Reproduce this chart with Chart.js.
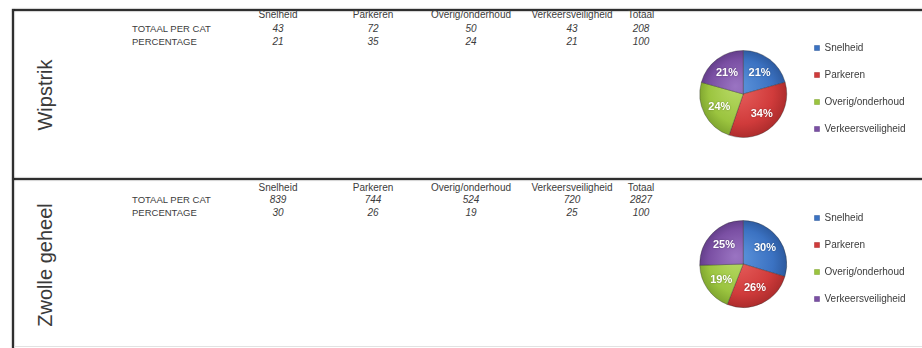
<!DOCTYPE html>
<html>
<head>
<meta charset="utf-8">
<script src="https://cdn.jsdelivr.net/npm/chart.js@4/dist/chart.umd.min.js"></script>
<style>
html,body{margin:0;padding:0;width:922px;height:348px;overflow:hidden;background:#fff;
  font-family:"Liberation Sans",Arial,sans-serif;color:#3c3c3c;}
.line{position:absolute;background:#2e2e2e;}
.t{position:absolute;white-space:nowrap;transform:translate(-50%,-50%);font-size:10px;line-height:12px;}
.lbl{position:absolute;white-space:nowrap;transform:translateY(-50%);font-size:9.5px;line-height:12px;}
.v{font-style:italic;}
.title{position:absolute;white-space:nowrap;font-size:20px;line-height:24px;color:#3a3a3a;
  transform:translate(-50%,-50%) rotate(-90deg);}
canvas{position:absolute;}
</style>
</head>
<body>
<div class="line" style="left:12px;top:9px;width:910px;height:2px;box-shadow:0 -1px 1px rgba(0,0,0,0.18),0 1px 1px rgba(0,0,0,0.18);"></div>
<div class="line" style="left:12px;top:178px;width:910px;height:2px;box-shadow:0 -1px 1px rgba(0,0,0,0.18),0 1px 1px rgba(0,0,0,0.18);"></div>
<div class="line" style="left:12px;top:9px;width:2px;height:339px;box-shadow:1px 0 1px rgba(0,0,0,0.18),-1px 0 1px rgba(0,0,0,0.18);"></div>
<div class="line" style="left:14px;top:346px;width:908px;height:1px;background:#e2e2e2;"></div>
<div id="texts"></div>
<canvas id="pie1" width="242" height="146" style="left:680px;top:20px;"></canvas>
<canvas id="pie2" width="242" height="146" style="left:680px;top:190px;"></canvas>
<script>
// ---- data ----
const categories = ['Snelheid', 'Parkeren', 'Overig/onderhoud', 'Verkeersveiligheid'];
const totalHeader = 'Totaal';
const rowLabels = ['TOTAAL PER CAT', 'PERCENTAGE'];
const panelTitles = ['Wipstrik', 'Zwolle geheel'];

const wipstrikTotals = [43, 72, 50, 43];
const wipstrikGrandTotal = 208;
const wipstrikPercent = [21, 35, 24, 21];
const wipstrikPieLabels = ['21%', '34%', '24%', '21%'];

const zwolleTotals = [839, 744, 524, 720];
const zwolleGrandTotal = 2827;
const zwollePercent = [30, 26, 19, 25];
const zwollePieLabels = ['30%', '26%', '19%', '25%'];

const percentTotal = 100;

// ---- styles / layout ----
const baseColors = ['#3b72c2', '#d03b3b', '#9bc43f', '#7a4fa3'];
const lightColors = ['#5f97de', '#ea6461', '#b8da66', '#9a74c2'];
const darkColors = ['#2a5699', '#a82a2a', '#7aa02c', '#5e3a84'];
const colX = [278, 373, 471, 572, 641];

const panels = [
  {title: panelTitles[0], titleY: 95, top: 0, totals: wipstrikTotals, grand: wipstrikGrandTotal,
   pct: wipstrikPercent, pie: wipstrikPieLabels, canvas: 'pie1', rowY: [15, 29, 42]},
  {title: panelTitles[1], titleY: 265, top: 171, totals: zwolleTotals, grand: zwolleGrandTotal,
   pct: zwollePercent, pie: zwollePieLabels, canvas: 'pie2', rowY: [188, 200, 213]}
];

const texts = document.getElementById('texts');
function addDiv(cls, txt, x, y) {
  const d = document.createElement('div');
  d.className = cls; d.textContent = txt;
  d.style.left = x + 'px'; d.style.top = y + 'px';
  texts.appendChild(d);
}

const pctPlugin = {
  id: 'pctLabels',
  afterDatasetsDraw(chart) {
    const ctx = chart.ctx;
    const ds = chart.data.datasets[0];
    const meta = chart.getDatasetMeta(0);
    ctx.save();
    ctx.font = 'bold 11px "Liberation Sans", Arial, sans-serif';
    ctx.fillStyle = '#ffffff';
    ctx.textAlign = 'center';
    ctx.textBaseline = 'middle';
    ctx.shadowColor = 'rgba(0,0,0,0.35)';
    ctx.shadowBlur = 2;
    meta.data.forEach((arc, i) => {
      const p = arc.getProps(['x', 'y', 'startAngle', 'endAngle', 'outerRadius'], true);
      const m = (p.startAngle + p.endAngle) / 2;
      const r = p.outerRadius * 0.62;
      ctx.fillText(ds.pctLabels[i], p.x + Math.cos(m) * r, p.y + Math.sin(m) * r);
    });
    ctx.restore();
  }
};

function sliceFill(context) {
  const chart = context.chart;
  const i = context.dataIndex;
  const a = chart.chartArea;
  if (!a || i === undefined) return baseColors[i] || baseColors[0];
  const cx = (a.left + a.right) / 2, cy = (a.top + a.bottom) / 2;
  const g = chart.ctx.createRadialGradient(cx - 8, cy - 8, 0, cx, cy, 46);
  g.addColorStop(0, lightColors[i]);
  g.addColorStop(0.7, baseColors[i]);
  g.addColorStop(1, darkColors[i]);
  return g;
}

panels.forEach(p => {
  addDiv('title', p.title, 45, p.titleY);
  categories.forEach((c, j) => addDiv('t', c, colX[j], p.rowY[0]));
  addDiv('t', totalHeader, colX[4], p.rowY[0]);
  addDiv('lbl', rowLabels[0], 132, p.rowY[1]);
  addDiv('lbl', rowLabels[1], 132, p.rowY[2]);
  p.totals.forEach((v, j) => addDiv('t v', String(v), colX[j], p.rowY[1]));
  addDiv('t v', String(p.grand), colX[4], p.rowY[1]);
  p.pct.forEach((v, j) => addDiv('t v', String(v), colX[j], p.rowY[2]));
  addDiv('t v', String(percentTotal), colX[4], p.rowY[2]);

  new Chart(document.getElementById(p.canvas), {
    type: 'pie',
    data: {
      labels: categories,
      datasets: [{
        data: p.totals,
        pctLabels: p.pie,
        backgroundColor: sliceFill,
        borderColor: 'rgba(40,40,40,0.35)',
        borderWidth: 1,
        radius: 43.5
      }]
    },
    options: {
      responsive: false,
      animation: false,
      events: [],
      layout: {padding: {left: 9, right: 16, top: 6, bottom: 4}},
      plugins: {
        tooltip: {enabled: false},
        legend: {
          position: 'right',
          align: 'start',
          labels: {
            boxWidth: 5,
            boxHeight: 5,
            padding: 17,
            color: '#3c3c3c',
            font: {family: '"Liberation Sans", Arial, sans-serif', size: 10},
            generateLabels(chart) {
              return chart.data.labels.map((l, i) => ({
                text: l, fillStyle: baseColors[i], strokeStyle: darkColors[i],
                lineWidth: 0.5, hidden: false, index: i, fontColor: '#3c3c3c'
              }));
            }
          }
        }
      }
    },
    plugins: [pctPlugin]
  });
});
</script>
</body>
</html>
